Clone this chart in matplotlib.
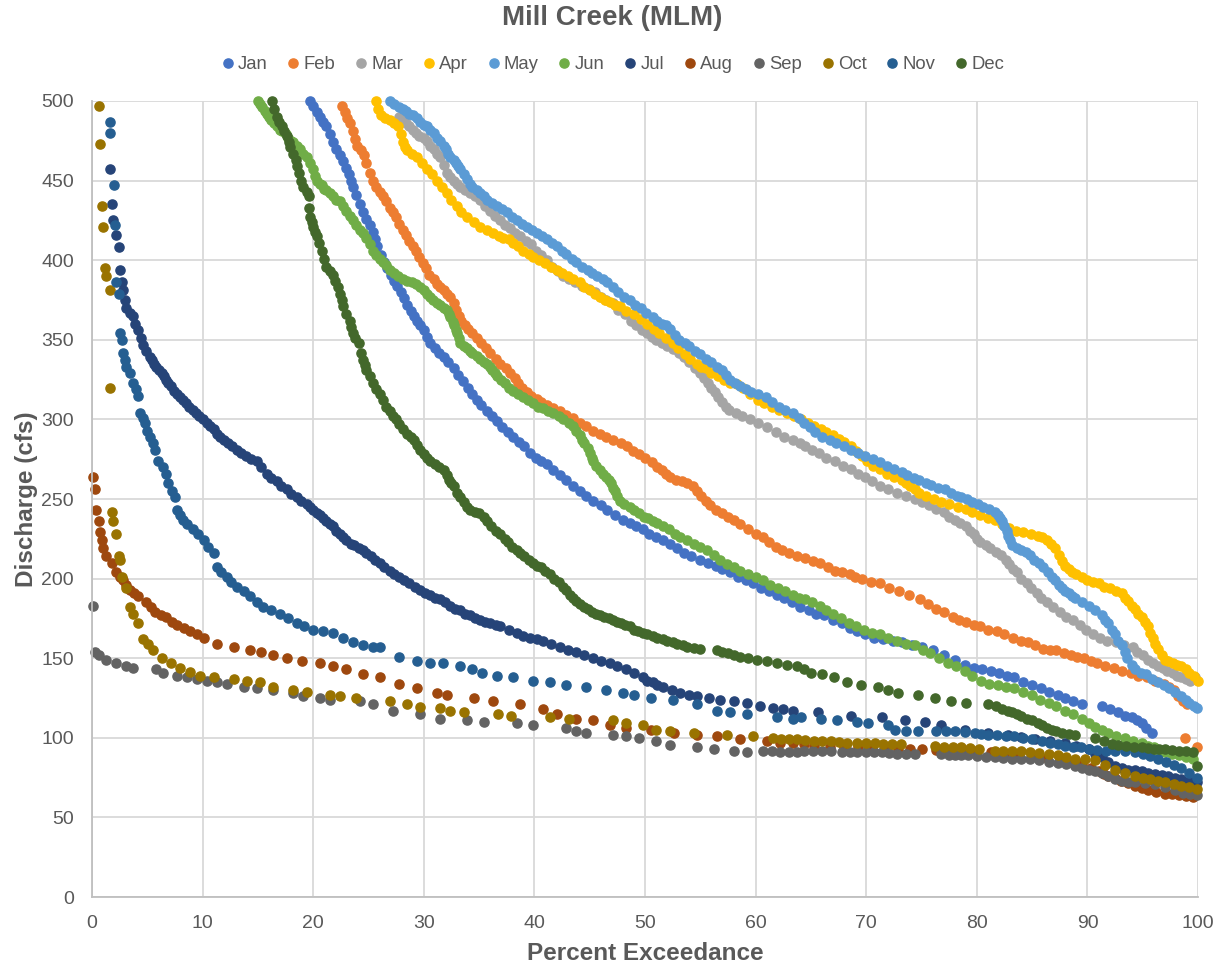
import matplotlib.pyplot as plt

plt.rcParams['font.family'] = ['Liberation Sans', 'DejaVu Sans']

months = ['Jan', 'Feb', 'Mar', 'Apr', 'May', 'Jun', 'Jul', 'Aug', 'Sep', 'Oct', 'Nov', 'Dec']
colors = ['#4472C4', '#ED7D31', '#A5A5A5', '#FFC000', '#5B9BD5', '#70AD47',
          '#264478', '#9E480E', '#636363', '#997300', '#255E91', '#43682B']

# (percent exceedance, discharge cfs)
jan = [(19.7, 500), (20.0, 497), (20.3, 493), (20.6, 490), (20.9, 487), (21.2, 484), (21.5, 479), (21.8, 474),
       (22.1, 470), (22.4, 466), (22.7, 462), (23.0, 458), (23.2, 454), (23.4, 450), (23.6, 446), (23.9, 441),
       (24.2, 435), (24.5, 430), (24.8, 426), (25.1, 422), (25.4, 418), (25.6, 413), (25.8, 409), (26.1, 403),
       (26.4, 399), (26.7, 395), (27.0, 391), (27.3, 387), (27.6, 384), (27.9, 380), (28.2, 376), (28.5, 372),
       (28.8, 368), (29.1, 365), (29.4, 362), (29.7, 359), (30.0, 356), (30.3, 352), (30.6, 348), (31.0, 345),
       (31.4, 342), (31.8, 339), (32.2, 336), (32.7, 332), (33.1, 328), (33.5, 324), (34.0, 320), (34.4, 316),
       (34.8, 312), (35.2, 309), (35.7, 305), (36.2, 302), (36.6, 299), (37.1, 295), (37.6, 292), (38.1, 289),
       (38.6, 286), (39.1, 283), (39.6, 279), (40.1, 276), (40.6, 274), (41.1, 272), (41.7, 268), (42.3, 265),
       (42.9, 262), (43.5, 258), (44.1, 255), (44.7, 252), (45.3, 249), (46.0, 246), (46.6, 243), (47.3, 240),
       (48.0, 237), (48.6, 235), (49.2, 233), (49.8, 231), (50.4, 228), (51.0, 226), (51.6, 224), (52.3, 222),
       (52.9, 219), (53.5, 216), (54.2, 214), (55.0, 212), (55.7, 210), (56.4, 208), (57.0, 206), (57.7, 204),
       (58.4, 201), (59.1, 199), (59.8, 197), (60.5, 194), (61.2, 192), (61.9, 190), (62.6, 188), (63.3, 185),
       (64.0, 182), (64.8, 180), (65.5, 178), (66.2, 177), (67.0, 174), (67.8, 172), (68.5, 169), (69.2, 167),
       (69.9, 165), (70.7, 163), (71.5, 162), (72.4, 161), (73.2, 160), (74.1, 158), (75.0, 157), (76.0, 155),
       (77.0, 152), (78.0, 149), (78.9, 146), (79.7, 144), (80.5, 143), (81.3, 142), (82.0, 141), (82.7, 139),
       (83.4, 138), (84.2, 135), (85.0, 133), (85.8, 131), (86.5, 129), (87.3, 127), (88.0, 125), (88.7, 123),
       (89.5, 121), (91.3, 120), (92.0, 118), (92.8, 116), (93.4, 114), (94.0, 113), (94.5, 111), (94.9, 109),
       (95.3, 106), (95.8, 103)]
feb = [(22.6, 497), (22.9, 493), (23.1, 489), (23.3, 486), (23.6, 481), (23.8, 476), (24.0, 472), (24.3, 469),
       (24.6, 466), (24.8, 461), (25.1, 455), (25.4, 450), (25.7, 446), (26.0, 443), (26.3, 440), (26.6, 437),
       (26.9, 433), (27.2, 430), (27.5, 427), (27.8, 423), (28.1, 419), (28.4, 416), (28.7, 412), (29.0, 409),
       (29.3, 406), (29.6, 402), (29.9, 398), (30.2, 395), (30.5, 391), (30.9, 388), (31.2, 385), (31.5, 383),
       (31.8, 381), (32.1, 379), (32.4, 377), (32.7, 373), (32.9, 369), (33.2, 365), (33.4, 362), (33.7, 359),
       (34.0, 357), (34.4, 354), (34.8, 351), (35.2, 348), (35.6, 345), (36.0, 342), (36.5, 338), (36.9, 335),
       (37.4, 332), (37.8, 329), (38.2, 326), (38.5, 323), (38.9, 320), (39.3, 317), (39.7, 315), (40.2, 313),
       (40.6, 311), (41.1, 309), (41.7, 307), (42.3, 305), (42.9, 303), (43.5, 301), (44.1, 298), (44.7, 296),
       (45.3, 293), (45.9, 291), (46.5, 289), (47.1, 287), (47.8, 285), (48.4, 283), (48.9, 280), (49.5, 278),
       (50.0, 276), (50.6, 273), (51.1, 270), (51.5, 268), (51.9, 266), (52.3, 264), (52.8, 262), (53.3, 261),
       (53.8, 260), (54.3, 258), (54.7, 255), (55.1, 252), (55.5, 249), (55.9, 246), (56.4, 243), (57.0, 241),
       (57.5, 239), (58.0, 237), (58.6, 234), (59.3, 231), (60.0, 228), (60.7, 226), (61.2, 223), (61.8, 220),
       (62.4, 218), (63.0, 216), (63.7, 214), (64.5, 213), (65.2, 211), (65.8, 210), (66.5, 207), (67.2, 205),
       (67.8, 204), (68.5, 203), (69.0, 201), (69.6, 200), (70.4, 198), (71.2, 197), (72.1, 194), (73.0, 192),
       (73.9, 190), (74.9, 187), (75.6, 184), (76.3, 181), (77.0, 179), (77.8, 176), (78.4, 174), (79.0, 173),
       (79.7, 171), (80.3, 170), (81.0, 168), (81.8, 167), (82.5, 165), (83.3, 163), (84.0, 161), (84.6, 160),
       (85.3, 158), (86.0, 156), (86.6, 155), (87.2, 155), (87.9, 153), (88.5, 152), (89.1, 151), (89.7, 150),
       (90.3, 148), (90.9, 147), (91.6, 145), (92.4, 144), (93.1, 142), (93.9, 141), (94.6, 139), (95.4, 138),
       (96.1, 136), (96.9, 134), (97.4, 132), (97.8, 130), (98.2, 126), (98.6, 123), (99.0, 121), (98.8, 100),
       (99.9, 94)]
mar = [(27.8, 490), (28.1, 488), (28.4, 486), (28.7, 484), (29.0, 482), (29.3, 480), (29.6, 478), (30.0, 477),
       (30.3, 475), (30.6, 472), (30.9, 470), (31.2, 467), (31.5, 465), (31.8, 460), (32.1, 455), (32.4, 452),
       (32.7, 450), (33.0, 448), (33.3, 446), (33.7, 444), (34.2, 442), (34.6, 440), (35.1, 438), (35.5, 434),
       (36.0, 431), (36.4, 428), (36.9, 425), (37.3, 422), (37.8, 420), (38.2, 417), (38.7, 415), (39.2, 412),
       (39.7, 410), (40.1, 406), (40.6, 403), (41.1, 400), (41.6, 396), (42.1, 393), (42.6, 390), (43.1, 388),
       (43.7, 386), (44.3, 384), (44.9, 382), (45.5, 380), (46.0, 377), (46.5, 375), (47.1, 373), (47.6, 369),
       (48.2, 366), (48.7, 362), (49.2, 359), (49.7, 356), (50.2, 354), (50.6, 352), (51.0, 350), (51.5, 348),
       (52.0, 346), (52.5, 344), (53.1, 342), (53.5, 339), (54.0, 336), (54.5, 332), (55.0, 329), (55.3, 326),
       (55.7, 323), (56.0, 320), (56.3, 317), (56.6, 314), (57.0, 311), (57.3, 308), (57.6, 306), (58.2, 304),
       (58.8, 302), (59.5, 300), (60.2, 298), (61.0, 295), (61.8, 292), (62.6, 289), (63.4, 287), (64.0, 285),
       (64.5, 283), (65.1, 281), (65.7, 279), (66.4, 276), (67.2, 274), (67.9, 271), (68.6, 269), (69.3, 266),
       (69.9, 264), (70.5, 261), (71.2, 258), (72.0, 256), (72.8, 254), (73.6, 252), (74.4, 250), (75.0, 248),
       (75.7, 246), (76.3, 244), (77.0, 242), (77.5, 239), (78.0, 237), (78.5, 235), (79.0, 233), (79.4, 230),
       (79.7, 228), (80.0, 225), (80.3, 223), (80.8, 221), (81.2, 219), (81.7, 217), (82.2, 215), (82.6, 212),
       (82.9, 209), (83.3, 206), (83.6, 204), (84.0, 200), (84.5, 197), (84.9, 194), (85.4, 191), (85.8, 188),
       (86.3, 185), (86.9, 182), (87.5, 179), (88.1, 176), (88.7, 174), (89.3, 171), (89.9, 168), (90.5, 165),
       (91.1, 163), (91.8, 161), (92.6, 160), (93.3, 158), (94.1, 157), (94.5, 154), (95.0, 152), (95.5, 149),
       (95.9, 147), (96.4, 145), (96.8, 144), (97.2, 142), (97.7, 141), (98.1, 139), (98.5, 138), (98.9, 137),
       (99.3, 136), (99.7, 138)]
apr = [(25.7, 500), (25.9, 495), (26.1, 491), (26.5, 489), (26.9, 488), (27.3, 486), (27.7, 484), (27.9, 479),
       (28.1, 474), (28.3, 471), (28.5, 469), (28.9, 467), (29.4, 465), (29.8, 461), (30.3, 457), (30.7, 454),
       (31.2, 450), (31.6, 446), (32.1, 442), (32.5, 438), (33.0, 434), (33.4, 430), (33.9, 427), (34.5, 424),
       (35.1, 421), (35.7, 419), (36.3, 417), (36.8, 415), (37.2, 414), (37.7, 413), (38.1, 411), (38.5, 409),
       (39.0, 406), (39.5, 404), (39.9, 402), (40.4, 400), (41.0, 398), (41.5, 396), (42.0, 394), (42.5, 392),
       (43.0, 390), (43.5, 388), (44.1, 386), (44.5, 383), (45.0, 381), (45.5, 379), (45.9, 377), (46.4, 375),
       (46.8, 374), (47.3, 372), (47.7, 371), (48.3, 368), (49.0, 366), (49.6, 363), (50.2, 360), (50.8, 357),
       (51.3, 354), (51.9, 351), (52.5, 348), (53.0, 345), (53.6, 341), (54.1, 338), (54.7, 335), (55.1, 333),
       (55.5, 332), (56.0, 329), (56.6, 327), (57.1, 325), (57.7, 323), (58.3, 322), (58.9, 320), (59.5, 316),
       (60.2, 312), (60.8, 310), (61.5, 308), (62.1, 306), (62.8, 304), (63.5, 302), (64.1, 300), (64.7, 298),
       (65.3, 296), (65.9, 294), (66.4, 292), (67.0, 290), (67.5, 288), (68.0, 286), (68.6, 283), (69.1, 280),
       (69.6, 277), (70.1, 274), (70.6, 271), (71.2, 269), (71.9, 266), (72.5, 264), (73.2, 262), (73.6, 260),
       (74.0, 258), (74.4, 256), (74.8, 254), (75.4, 252), (76.1, 250), (76.8, 248), (77.5, 247), (78.3, 245),
       (79.0, 244), (79.6, 242), (80.3, 240), (81.0, 238), (81.6, 237), (82.3, 234), (82.9, 232), (83.5, 230),
       (84.2, 229), (84.9, 228), (85.5, 227), (85.9, 226), (86.3, 224), (86.7, 222), (87.1, 219), (87.4, 215),
       (87.7, 211), (88.0, 208), (88.3, 206), (88.6, 204), (89.0, 203), (89.5, 201), (90.0, 199), (90.5, 198),
       (91.0, 197), (91.5, 195), (92.0, 194), (92.6, 192), (93.1, 191), (93.4, 188), (93.7, 186), (94.0, 183),
       (94.3, 181), (94.6, 178), (94.9, 176), (95.2, 173), (95.5, 170), (95.7, 166), (95.9, 163), (96.1, 159),
       (96.4, 156), (96.7, 152), (97.0, 149), (97.3, 148), (97.7, 147), (98.1, 146), (98.5, 145), (98.9, 143),
       (99.2, 141), (99.6, 139), (100.0, 136)]
may = [(26.9, 500), (27.3, 498), (27.8, 496), (28.1, 495), (28.4, 494), (28.7, 492), (29.0, 491), (29.4, 489),
       (29.7, 487), (30.0, 485), (30.3, 484), (30.6, 482), (30.9, 480), (31.2, 477), (31.5, 475), (31.8, 472),
       (32.0, 470), (32.2, 467), (32.4, 465), (32.7, 463), (32.9, 461), (33.1, 459), (33.3, 457), (33.6, 454),
       (33.9, 451), (34.2, 448), (34.4, 446), (34.8, 444), (35.1, 442), (35.4, 440), (35.7, 438), (36.2, 436),
       (36.6, 434), (37.1, 432), (37.5, 430), (38.0, 427), (38.4, 425), (38.9, 423), (39.3, 421), (39.8, 419),
       (40.2, 417), (40.7, 415), (41.1, 413), (41.6, 411), (42.0, 409), (42.5, 406), (42.9, 404), (43.4, 401),
       (43.8, 399), (44.3, 396), (44.8, 394), (45.2, 392), (45.7, 390), (46.2, 388), (46.6, 386), (47.1, 383),
       (47.6, 380), (48.1, 377), (48.6, 375), (49.1, 372), (49.6, 370), (50.1, 367), (50.7, 364), (51.1, 362),
       (51.5, 360), (51.9, 359), (52.3, 357), (52.7, 353), (53.1, 350), (53.6, 348), (54.0, 346), (54.5, 343),
       (55.0, 341), (55.5, 338), (56.0, 336), (56.5, 333), (57.0, 331), (57.3, 328), (57.7, 325), (58.1, 323),
       (58.6, 321), (59.1, 319), (59.6, 317), (60.2, 316), (60.9, 314), (61.5, 311), (62.1, 308), (62.7, 306),
       (63.4, 304), (63.9, 301), (64.4, 298), (64.9, 295), (65.4, 292), (66.0, 289), (66.7, 287), (67.3, 285),
       (68.0, 283), (68.6, 281), (69.3, 279), (69.9, 277), (70.6, 275), (71.2, 273), (71.9, 271), (72.5, 269),
       (73.2, 267), (73.7, 265), (74.3, 263), (74.8, 262), (75.4, 260), (75.9, 259), (76.5, 257), (77.1, 256),
       (77.7, 254), (78.2, 252), (78.6, 251), (79.1, 250), (79.6, 248), (80.1, 247), (80.6, 245), (81.1, 244),
       (81.6, 242), (81.9, 240), (82.1, 238), (82.3, 236), (82.5, 233), (82.7, 230), (82.8, 227), (83.0, 224),
       (83.2, 221), (83.6, 219), (84.0, 218), (84.4, 217), (84.8, 215), (85.2, 212), (85.6, 210), (86.0, 207),
       (86.4, 204), (86.8, 201), (87.1, 199), (87.4, 196), (87.7, 194), (88.0, 192), (88.3, 191), (88.6, 189),
       (88.9, 188), (89.5, 185), (90.1, 183), (90.7, 180), (91.3, 177), (91.6, 174), (91.9, 172), (92.2, 168),
       (92.5, 165), (92.8, 161), (93.1, 158), (93.4, 154), (93.6, 150), (94.0, 146), (94.3, 143), (94.8, 141),
       (95.3, 140), (95.8, 137), (96.4, 135), (96.9, 133), (97.4, 131), (97.9, 129), (98.5, 126), (98.9, 124),
       (99.2, 122), (99.6, 120), (99.9, 119)]
jun = [(15.0, 500), (15.2, 498), (15.4, 496), (15.6, 494), (15.8, 492), (16.0, 490), (16.2, 488), (16.5, 486),
       (16.7, 484), (17.0, 482), (17.2, 481), (17.5, 479), (17.7, 477), (18.0, 475), (18.2, 474), (18.5, 472),
       (18.8, 470), (19.1, 467), (19.4, 465), (19.7, 461), (20.0, 457), (20.2, 453), (20.3, 450), (20.6, 448),
       (20.8, 447), (21.0, 445), (21.2, 444), (21.5, 442), (21.8, 440), (22.1, 438), (22.4, 437), (22.7, 434),
       (23.0, 431), (23.3, 428), (23.6, 425), (23.9, 422), (24.2, 419), (24.5, 417), (24.8, 414), (25.1, 410),
       (25.4, 406), (25.7, 403), (26.0, 401), (26.3, 399), (26.6, 397), (26.9, 394), (27.3, 392), (27.7, 390),
       (28.1, 388), (28.5, 387), (28.9, 386), (29.3, 385), (29.7, 383), (30.0, 381), (30.3, 379), (30.6, 377),
       (30.8, 375), (31.2, 373), (31.5, 372), (31.8, 370), (32.1, 369), (32.3, 366), (32.4, 364), (32.6, 361),
       (32.7, 359), (32.9, 356), (33.0, 354), (33.2, 351), (33.3, 348), (33.6, 346), (33.9, 345), (34.2, 343),
       (34.4, 342), (34.8, 340), (35.1, 338), (35.4, 336), (35.7, 335), (36.0, 333), (36.2, 331), (36.4, 329),
       (36.6, 327), (37.0, 325), (37.3, 323), (37.7, 320), (38.1, 318), (38.5, 316), (39.0, 314), (39.4, 312),
       (39.9, 310), (40.3, 308), (40.8, 307), (41.2, 305), (41.7, 304), (42.2, 302), (42.6, 300), (43.1, 298),
       (43.5, 296), (43.8, 293), (44.1, 290), (44.3, 287), (44.5, 285), (44.8, 282), (45.0, 279), (45.2, 276),
       (45.3, 274), (45.6, 271), (45.9, 268), (46.2, 266), (46.5, 264), (46.7, 262), (46.9, 260), (47.1, 257),
       (47.3, 255), (47.5, 252), (47.7, 249), (48.1, 247), (48.6, 245), (49.0, 243), (49.5, 241), (49.9, 239),
       (50.3, 238), (50.7, 236), (51.1, 235), (51.6, 233), (52.2, 231), (52.7, 228), (53.2, 226), (53.8, 224),
       (54.4, 222), (55.0, 220), (55.6, 218), (56.2, 215), (56.8, 212), (57.4, 209), (58.0, 207), (58.6, 205),
       (59.3, 203), (60.0, 201), (60.7, 199), (61.3, 196), (62.0, 194), (62.7, 192), (63.4, 190), (63.9, 188),
       (64.5, 187), (65.1, 185), (65.8, 183), (66.4, 180), (67.0, 178), (67.7, 175), (68.4, 172), (69.1, 170),
       (69.8, 168), (70.5, 166), (71.2, 165), (72.0, 163), (72.8, 161), (73.6, 159), (74.4, 158), (75.1, 155),
       (75.8, 153), (76.6, 150), (77.4, 147), (78.1, 145), (78.9, 142), (79.6, 139), (80.4, 136), (81.1, 134),
       (81.9, 133), (82.6, 132), (83.4, 131), (84.2, 129), (85.0, 127), (85.7, 124), (86.5, 122), (87.2, 120),
       (88.0, 117), (88.7, 115), (89.5, 112), (90.1, 109), (90.7, 107), (91.3, 105), (91.9, 103), (92.6, 101),
       (93.4, 100), (94.1, 98), (94.9, 97), (95.5, 95), (96.0, 94), (96.5, 92), (97.0, 91), (97.6, 90),
       (98.3, 89), (98.9, 88), (99.5, 87)]
jul = [(1.6, 457), (1.8, 435), (1.9, 425), (2.2, 416), (2.4, 408), (2.5, 394), (2.7, 386), (2.8, 381),
       (3.0, 375), (3.1, 370), (3.4, 367), (3.7, 365), (3.9, 360), (4.2, 356), (4.4, 351), (4.6, 347),
       (4.9, 343), (5.2, 339), (5.4, 337), (5.6, 335), (5.8, 333), (6.1, 331), (6.3, 329), (6.5, 327),
       (6.7, 325), (6.9, 323), (7.1, 321), (7.4, 318), (7.7, 316), (8.0, 314), (8.2, 312), (8.5, 310),
       (8.8, 308), (9.1, 306), (9.4, 304), (9.7, 302), (10.0, 300), (10.4, 298), (10.7, 296), (11.0, 294),
       (11.3, 291), (11.6, 289), (11.9, 287), (12.3, 285), (12.7, 283), (13.1, 281), (13.5, 279), (13.9, 277),
       (14.4, 275), (14.9, 274), (15.3, 270), (15.8, 266), (16.2, 263), (16.7, 261), (17.1, 258), (17.6, 256),
       (18.0, 253), (18.5, 251), (18.9, 249), (19.4, 247), (19.7, 245), (20.0, 243), (20.3, 241), (20.6, 240),
       (20.9, 238), (21.2, 236), (21.5, 234), (21.8, 233), (22.1, 230), (22.4, 228), (22.7, 226), (23.0, 224),
       (23.4, 222), (23.7, 221), (24.1, 219), (24.5, 218), (24.8, 216), (25.2, 214), (25.6, 212), (26.0, 210),
       (26.4, 207), (26.9, 205), (27.3, 203), (27.8, 201), (28.2, 199), (28.7, 197), (29.2, 195), (29.7, 193),
       (30.1, 191), (30.6, 190), (31.0, 188), (31.5, 187), (31.9, 185), (32.4, 183), (32.8, 181), (33.3, 180),
       (33.7, 178), (34.2, 177), (34.6, 175), (35.1, 174), (35.5, 173), (36.0, 172), (36.5, 171), (36.9, 170),
       (37.7, 168), (38.4, 166), (39.0, 164), (39.6, 163), (40.2, 162), (40.8, 161), (41.5, 159), (42.3, 157),
       (43.0, 155), (43.8, 154), (44.5, 152), (45.3, 150), (46.0, 148), (46.8, 147), (47.5, 145), (48.3, 143),
       (49.0, 141), (49.8, 138), (50.2, 136), (50.7, 135), (51.1, 133), (51.6, 132), (52.4, 130), (53.2, 128),
       (54.0, 127), (54.7, 126), (55.8, 125), (56.8, 124), (58.0, 123), (59.2, 122), (60.4, 120), (61.6, 119),
       (62.5, 118), (63.4, 117), (65.6, 116), (68.6, 114), (71.4, 113), (73.5, 111), (75.3, 110), (76.8, 108),
       (78.9, 105), (81.0, 103), (82.8, 102), (84.0, 100.5), (85.3, 99), (86.6, 98), (88.0, 97), (89.0, 95),
       (90.1, 93), (90.7, 90), (91.3, 88), (91.9, 85), (92.5, 82), (93.1, 81), (93.7, 80), (94.3, 79.5),
       (94.9, 79), (95.5, 78), (96.1, 77), (96.7, 76.5), (97.3, 76), (97.9, 75), (98.5, 74), (99.2, 73),
       (99.9, 72)]
aug = [(0.1, 264), (0.3, 256), (0.4, 243), (0.6, 236), (0.7, 229), (0.9, 224), (1.0, 219), (1.3, 214),
       (1.8, 210), (2.2, 204), (2.5, 201), (2.8, 199), (3.1, 196), (3.4, 193), (3.8, 191), (4.2, 189),
       (4.9, 185), (5.3, 182), (5.7, 179), (6.2, 177), (6.7, 176), (7.2, 173), (7.7, 171), (8.3, 169),
       (8.9, 167), (9.5, 165), (10.1, 163), (11.3, 159), (12.8, 157), (14.3, 155), (15.3, 154), (16.4, 152),
       (17.6, 150), (19.0, 148), (20.6, 147), (21.8, 145), (23.0, 143), (24.5, 140), (26.0, 138), (27.8, 134),
       (29.4, 131), (31.2, 128), (32.1, 127), (34.5, 125), (36.3, 123), (38.7, 121), (40.8, 118), (42.0, 115),
       (43.8, 112), (45.3, 111), (46.8, 108), (48.3, 106), (50.5, 105), (52.6, 103), (54.7, 102), (56.5, 101),
       (58.6, 99), (61.0, 98), (62.2, 97), (63.4, 96.5), (64.4, 96), (65.3, 95), (66.7, 94.5), (68.0, 94),
       (69.3, 94), (70.5, 94), (71.7, 93.5), (72.9, 93), (74.0, 93), (75.0, 93), (76.3, 92.5), (77.5, 92),
       (78.8, 92), (80.0, 92), (81.3, 91), (82.5, 90), (83.8, 89.5), (85.0, 89), (86.3, 87.5), (87.5, 86),
       (88.5, 85), (89.5, 84), (90.3, 81), (91.0, 79), (91.5, 77.5), (91.9, 76), (92.5, 74.5), (93.0, 73),
       (93.7, 71.5), (94.3, 70), (94.9, 68.5), (95.5, 67), (96.2, 66), (97.0, 65), (97.6, 64.5), (98.3, 64),
       (98.9, 63.5), (99.5, 63)]
sep = [(0.1, 183), (0.3, 154), (0.6, 152), (1.3, 149), (2.2, 147), (3.1, 145), (3.7, 144), (5.8, 143),
       (6.4, 141), (7.7, 139), (8.6, 138), (9.5, 137), (10.4, 136), (11.3, 135), (12.2, 134), (13.7, 132),
       (14.9, 131), (16.4, 130), (18.2, 128), (19.1, 126), (20.6, 125), (21.5, 124), (24.2, 123), (25.4, 121),
       (27.2, 117), (29.7, 115), (31.5, 112), (33.9, 111), (35.4, 110), (38.4, 109), (39.9, 108), (42.9, 106),
       (43.8, 104), (44.7, 103), (47.1, 102), (48.3, 101), (49.5, 100), (51.0, 98), (52.3, 95.5), (54.7, 94),
       (56.2, 93), (58.0, 92), (59.2, 91), (60.7, 92), (61.5, 91.5), (62.2, 91), (63.0, 91), (63.7, 91),
       (64.4, 92), (65.2, 92), (66.0, 92), (66.8, 92), (67.8, 91), (68.5, 91), (69.2, 91), (70.0, 91),
       (70.7, 91), (71.4, 91), (72.1, 90.5), (72.8, 90), (73.6, 90), (74.4, 90), (76.8, 90), (77.5, 89.5),
       (78.0, 89), (78.6, 89), (79.2, 89), (80.0, 88.5), (80.8, 88), (81.6, 88), (82.4, 87.5), (83.2, 87),
       (84.0, 87), (84.8, 86.5), (85.6, 86), (86.5, 85), (87.3, 84), (88.1, 83.5), (88.9, 82.5), (89.5, 81),
       (90.1, 80), (90.7, 79), (91.3, 78), (91.9, 76), (92.5, 74), (93.1, 73), (93.7, 72.5), (94.3, 72),
       (95.2, 71.5), (96.1, 71), (97.0, 69), (97.9, 67), (98.6, 65.5), (99.3, 64.5), (99.9, 64)]
oct_ = [(0.6, 497), (0.7, 473), (0.9, 434), (1.0, 421), (1.2, 395), (1.3, 390), (1.6, 381), (1.6, 320),
        (1.8, 242), (1.9, 236), (2.2, 228), (2.4, 214), (2.5, 212), (2.7, 201), (3.1, 194), (3.4, 182),
        (3.7, 178), (4.2, 172), (4.6, 162), (5.1, 159), (5.5, 155), (6.3, 150), (7.1, 147), (8.0, 144),
        (8.9, 141.5), (9.8, 139), (11.0, 138), (12.8, 137), (14.0, 136), (15.2, 135), (16.4, 132), (18.2, 130),
        (19.4, 129), (21.5, 127), (22.4, 126), (23.9, 125), (26.9, 123), (28.5, 121), (29.7, 119.5), (31.5, 118.5),
        (32.4, 117), (33.6, 116), (36.7, 115), (37.9, 114), (41.4, 113), (43.1, 112), (47.1, 111), (48.3, 109),
        (49.8, 108), (51.0, 105), (52.3, 104), (54.4, 103), (57.4, 102), (59.8, 101), (61.6, 100), (62.3, 99.5),
        (63.0, 99), (63.7, 99), (64.5, 98.5), (65.3, 98), (66.0, 98), (66.8, 98), (67.5, 97.5), (68.3, 97),
        (69.2, 97), (70.0, 96.5), (70.8, 96.5), (71.5, 96), (72.3, 96), (73.1, 96), (76.2, 95), (77.0, 94.5),
        (77.8, 94), (78.6, 94), (79.4, 93.5), (80.2, 93), (81.6, 92), (82.4, 92), (83.2, 92), (84.0, 91.5),
        (84.8, 91), (85.6, 90.5), (86.5, 90), (87.3, 89), (88.1, 88), (88.9, 87), (89.8, 86.5), (90.7, 86),
        (91.6, 83), (92.5, 80), (93.4, 78), (94.3, 76), (95.0, 75), (95.7, 74), (96.4, 73), (97.0, 72),
        (97.8, 71), (98.5, 70), (99.2, 69), (99.9, 68)]
nov = [(1.6, 487), (1.6, 480), (2.0, 447), (2.1, 422), (2.2, 386), (2.4, 379), (2.5, 354), (2.7, 350),
       (2.8, 342), (3.0, 337), (3.1, 333), (3.4, 329), (3.7, 323), (4.0, 319), (4.2, 315), (4.3, 304),
       (4.6, 301), (4.8, 298), (5.0, 293), (5.2, 289), (5.5, 285), (5.7, 281), (6.0, 274), (6.4, 270),
       (6.7, 266), (6.9, 260), (7.2, 255), (7.5, 251), (7.7, 243), (8.0, 240), (8.2, 237), (8.6, 234),
       (9.1, 231), (9.6, 228), (10.1, 224), (10.5, 220), (11.0, 216), (11.3, 207), (11.7, 204), (12.2, 201),
       (12.6, 198), (13.1, 195), (13.7, 192), (14.3, 189), (14.9, 185), (15.5, 182), (16.2, 180), (17.0, 178),
       (17.7, 175), (18.5, 172), (19.2, 170), (20.0, 168), (20.9, 167), (21.8, 166), (22.7, 163), (23.6, 160),
       (24.5, 158), (25.4, 157), (26.0, 157), (27.8, 151), (29.4, 148), (30.6, 147), (31.7, 147), (33.3, 145),
       (34.4, 143), (35.3, 141), (36.6, 139), (38.1, 138), (39.9, 136), (41.4, 135), (42.9, 133), (44.7, 132),
       (46.5, 130), (48.0, 128), (49.0, 127), (50.5, 125), (52.5, 124), (54.7, 121), (56.5, 117), (57.7, 116),
       (59.2, 115), (61.9, 113), (63.4, 112), (64.1, 113), (65.9, 112), (67.4, 111), (69.2, 110), (70.2, 109),
       (72.0, 108), (72.6, 105), (73.6, 104.5), (74.7, 104), (76.3, 104), (77.2, 104), (78.0, 104), (78.9, 103.5),
       (79.8, 103), (80.4, 102.5), (81.0, 102), (81.8, 101.5), (82.6, 101), (83.4, 101), (84.2, 100), (85.0, 99),
       (85.9, 98), (86.6, 97), (87.3, 96), (88.0, 95), (88.7, 94.5), (89.4, 94), (90.1, 93), (90.9, 92.5),
       (91.7, 92), (92.5, 92), (93.4, 91.5), (94.3, 91), (95.0, 90), (95.7, 88.5), (96.4, 87), (97.1, 85),
       (97.8, 83), (98.5, 81), (99.2, 78), (99.9, 75)]
dec = [(16.3, 500), (16.5, 495), (16.7, 490), (16.9, 487), (17.2, 484), (17.4, 481), (17.6, 478), (17.8, 474),
       (17.9, 471), (18.2, 467), (18.4, 463), (18.5, 459), (18.7, 455), (18.9, 450), (19.1, 446), (19.4, 443),
       (19.6, 440), (19.6, 433), (19.7, 427), (19.9, 424), (20.0, 421), (20.2, 418), (20.3, 415), (20.5, 411),
       (20.8, 406), (21.0, 401), (21.2, 396), (21.5, 393), (21.8, 391), (22.0, 387), (22.2, 383), (22.4, 379),
       (22.6, 375), (22.7, 371), (23.0, 366), (23.3, 362), (23.4, 358), (23.6, 354), (23.8, 351), (24.1, 348),
       (24.3, 342), (24.5, 337), (24.7, 334), (24.8, 331), (25.1, 327), (25.4, 323), (25.7, 319), (26.0, 316),
       (26.3, 312), (26.6, 308), (26.9, 305), (27.2, 302), (27.5, 300), (27.8, 297), (28.1, 294), (28.5, 291),
       (28.8, 289), (29.1, 287), (29.4, 284), (29.7, 281), (30.0, 278), (30.3, 276), (30.6, 274), (31.0, 272),
       (31.4, 270), (31.8, 268), (32.1, 265), (32.3, 262), (32.5, 260), (32.7, 258), (33.0, 254), (33.3, 251),
       (33.6, 248), (33.9, 245), (34.2, 243), (34.6, 242), (35.0, 241), (35.4, 239), (35.7, 236), (36.1, 233),
       (36.5, 230), (36.9, 228), (37.3, 225), (37.6, 223), (38.0, 220), (38.4, 218), (38.7, 216), (39.1, 214),
       (39.5, 212), (39.9, 210), (40.2, 208), (40.6, 207), (41.0, 205), (41.4, 203), (41.8, 200), (42.2, 198),
       (42.6, 195), (42.9, 193), (43.2, 190), (43.5, 188), (43.8, 186), (44.1, 184), (44.5, 182), (44.8, 181),
       (45.2, 179), (45.6, 178), (45.9, 177), (46.3, 176), (46.7, 175), (47.1, 174), (47.5, 173), (47.8, 172),
       (48.2, 171), (48.6, 170), (49.0, 168), (49.4, 167), (49.8, 166), (50.2, 165), (50.7, 164), (51.1, 163),
       (51.6, 162), (52.0, 161), (52.5, 160), (52.9, 159), (53.4, 158), (53.8, 157), (54.4, 156.5), (55.0, 156),
       (56.5, 155), (57.0, 154), (57.5, 153), (58.0, 152), (58.6, 151), (59.3, 150), (60.1, 149), (61.0, 148),
       (61.9, 147), (62.8, 146), (63.7, 145), (64.4, 143), (65.0, 141), (66.0, 140), (67.1, 138), (68.3, 135),
       (69.5, 133), (71.1, 132), (72.0, 130), (72.9, 128), (74.7, 127), (76.2, 125), (77.7, 123), (79.0, 122),
       (81.0, 121), (81.7, 120), (82.3, 118), (82.8, 117), (83.2, 116), (83.6, 115), (84.0, 114), (84.5, 112),
       (85.0, 111), (85.5, 109), (85.9, 108), (86.3, 106), (86.8, 105), (87.2, 104), (87.7, 103), (88.3, 102.5),
       (88.9, 102), (90.7, 100), (91.5, 98), (92.2, 96), (92.8, 95.5), (93.5, 95), (94.2, 94.5), (94.9, 94),
       (95.5, 93.5), (96.0, 93), (96.5, 93), (97.0, 93), (97.6, 92.5), (98.3, 92), (98.9, 91.5), (99.5, 91),
       (99.9, 82)]

series = [jan, feb, mar, apr, may, jun, jul, aug, sep, oct_, nov, dec]

x_ticks = list(range(0, 101, 10))
y_ticks = list(range(0, 501, 50))

text_col = '#595959'
grid_col = '#D9D9D9'

fig = plt.figure(figsize=(12.25, 9.68), dpi=100)
ax = fig.add_axes([0.0751, 0.0733, 0.9029, 0.8224])

for name, col, pts in zip(months, colors, series):
    xs = [p[0] for p in pts]
    ys = [p[1] for p in pts]
    ax.plot(xs, ys, linestyle='none', marker='o', markersize=6.6,
            markerfacecolor=col, markeredgecolor=col, label=name, clip_on=False)

ax.set_xlim(0, 100)
ax.set_ylim(0, 500)
ax.set_xticks(x_ticks)
ax.set_yticks(y_ticks)
ax.grid(True, color=grid_col, linewidth=1.3)
ax.set_axisbelow(True)
for s in ['top', 'right']:
    ax.spines[s].set_visible(False)
for s in ['left', 'bottom']:
    ax.spines[s].set_color('#BFBFBF')
    ax.spines[s].set_linewidth(1.3)
ax.tick_params(length=0, labelsize=14, labelcolor=text_col, pad=13)

ax.set_xlabel('Percent Exceedance', fontsize=17.5, fontweight='bold', color=text_col, labelpad=7)
ax.set_ylabel('Discharge (cfs)', fontsize=17.5, fontweight='bold', color=text_col, labelpad=2)

fig.text(0.5, 0.981, 'Mill Creek (MLM)', ha='center', va='center',
         fontsize=20, fontweight='bold', color=text_col)

fig.legend(loc='center', bbox_to_anchor=(0.499, 0.933), ncol=12, frameon=False,
           fontsize=13.3, labelcolor=text_col, handletextpad=0.05, columnspacing=0.9,
           markerscale=1.0, handlelength=1.0)

fig.savefig('out.png', dpi=100)
